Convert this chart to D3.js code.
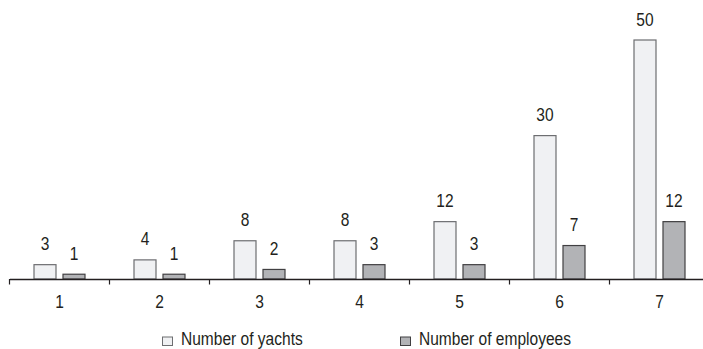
<!DOCTYPE html>
<html>
<head>
<meta charset="utf-8">
<script src="https://cdn.jsdelivr.net/npm/d3@7"></script>
<style>
  html, body { margin: 0; padding: 0; background: #fff; }
  svg { display: block; }
  text { font-family: "Liberation Sans Narrow", "Arial Narrow", "Liberation Sans", Arial, sans-serif; fill: #231f20; }
</style>
</head>
<body>
<svg id="chart" width="703" height="349"></svg>
<script>
const categories = ["1", "2", "3", "4", "5", "6", "7"];
const seriesNames = ["Number of yachts", "Number of employees"];
const yachts = [3, 4, 8, 8, 12, 30, 50];
const employees = [1, 1, 2, 3, 3, 7, 12];
const seriesValues = [yachts, employees];
const colors = ["#f0f1f3", "#b2b3b6"];
const strokes = ["#6d6e71", "#414042"];

const SX = 0.84;   // horizontal condensing to mimic narrow font
const FS = 18.5;

const svg = d3.select("#chart");
const baseY = 279;

const x0 = d3.scaleBand().domain(categories).range([9.5, 709.5]).padding(0);
const x1 = d3.scaleBand().domain(seriesNames).range([24, 76]).paddingInner(6 / 29).paddingOuter(0);
const y = d3.scaleLinear().domain([0, 50]).range([baseY, 40]);

// bars
const groups = svg.append("g").selectAll("g")
  .data(categories)
  .join("g")
  .attr("transform", d => `translate(${x0(d)},0)`);

seriesNames.forEach((s, si) => {
  groups.append("rect")
    .attr("x", () => x1(s) + 0.5)
    .attr("y", (d, i) => y(seriesValues[si][i]))
    .attr("width", x1.bandwidth() - 1)
    .attr("height", (d, i) => baseY - y(seriesValues[si][i]))
    .attr("fill", colors[si])
    .attr("stroke", strokes[si])
    .attr("stroke-width", 1.2);
  groups.append("text")
    .attr("transform", (d, i) => `translate(${x1(s) + x1.bandwidth() / 2},${y(seriesValues[si][i]) - 14.5}) scale(${SX},1)`)
    .attr("text-anchor", "middle")
    .attr("font-size", FS)
    .text((d, i) => seriesValues[si][i]);
});

// axis
const axis = d3.axisBottom(x0).tickSize(0).tickPadding(16).tickSizeOuter(0);
const ag = svg.append("g").attr("transform", `translate(0,${baseY})`).call(axis);
ag.attr("font-family", null).attr("font-size", null);
ag.select(".domain").attr("stroke", "#231f20").attr("stroke-width", 1.3);
ag.selectAll(".tick text")
  .attr("font-size", FS)
  .attr("fill", "#231f20")
  .attr("transform", `scale(${SX},1)`);
// boundary ticks
ag.selectAll("line.bound")
  .data(categories)
  .join("line")
  .attr("class", "bound")
  .attr("x1", d => x0(d)).attr("x2", d => x0(d))
  .attr("y1", 0).attr("y2", 5.5)
  .attr("stroke", "#231f20").attr("stroke-width", 1.2);

// legend
const legendX = [162.5, 400.5];
const lg = svg.append("g").selectAll("g")
  .data(seriesNames)
  .join("g")
  .attr("transform", (d, i) => `translate(${legendX[i]},337)`);
lg.append("rect")
  .attr("width", 10).attr("height", 8.5)
  .attr("fill", (d, i) => colors[i])
  .attr("stroke", (d, i) => strokes[i])
  .attr("stroke-width", 1);
lg.append("text")
  .attr("transform", `translate(18.5,8.3) scale(${SX},1)`)
  .attr("font-size", FS)
  .text(d => d);
</script>
</body>
</html>
